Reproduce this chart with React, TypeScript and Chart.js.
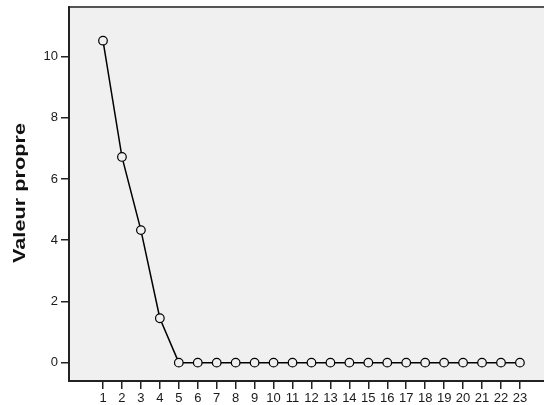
import React, { useEffect, useRef } from "react";
import { Chart, registerables } from "chart.js";

Chart.register(...registerables);

const components: number[] = [1, 2, 3, 4, 5, 6, 7, 8, 9, 10, 11, 12, 13, 14, 15, 16, 17, 18, 19, 20, 21, 22, 23];
const eigenvalues: number[] = [10.52, 6.72, 4.33, 1.45, 0, 0, 0, 0, 0, 0, 0, 0, 0, 0, 0, 0, 0, 0, 0, 0, 0, 0, 0];
const yTicks: number[] = [0, 2, 4, 6, 8, 10];
const yTitle = "Valeur propre";

const FONT = "'Liberation Sans', Arial, sans-serif";

export default function App() {
  const ref = useRef<HTMLCanvasElement | null>(null);

  useEffect(() => {
    const canvas = ref.current;
    if (!canvas) return;

    const framePlugin = {
      id: "frame",
      beforeDraw(chart: any) {
        const { ctx, chartArea } = chart;
        ctx.save();
        ctx.fillStyle = "#ffffff";
        ctx.fillRect(0, 0, chart.width, chart.height);
        ctx.fillStyle = "#f0f0f0";
        ctx.fillRect(chartArea.left, chartArea.top, chartArea.right - chartArea.left, chartArea.bottom - chartArea.top);
        ctx.restore();
      },
      afterDraw(chart: any) {
        const { ctx, chartArea } = chart;
        ctx.save();
        ctx.lineWidth = 2;
        ctx.strokeStyle = "#555555";
        ctx.beginPath();
        ctx.moveTo(chartArea.left, chartArea.top);
        ctx.lineTo(chartArea.right, chartArea.top);
        ctx.stroke();
        ctx.strokeStyle = "#222222";
        ctx.beginPath();
        ctx.moveTo(chartArea.left, chartArea.top - 1);
        ctx.lineTo(chartArea.left, chartArea.bottom);
        ctx.lineTo(chartArea.right, chartArea.bottom);
        ctx.stroke();

        // y-axis title
        ctx.font = `bold 17px ${FONT}`;
        const w = ctx.measureText(yTitle).width;
        const target = 140;
        const cy = (chartArea.top + chartArea.bottom) / 2 - 1;
        ctx.translate(20, cy);
        ctx.rotate(-Math.PI / 2);
        ctx.scale(target / w, 1);
        ctx.fillStyle = "#111111";
        ctx.textAlign = "center";
        ctx.textBaseline = "middle";
        ctx.fillText(yTitle, 0, 0);
        ctx.restore();
      },
    };

    const chart = new Chart(canvas, {
      type: "line",
      data: {
        datasets: [
          {
            data: components.map((c, i) => ({ x: c, y: eigenvalues[i] })),
            borderColor: "#000000",
            borderWidth: 1.5,
            pointRadius: 4.3,
            pointBorderWidth: 1.2,
            pointBorderColor: "#000000",
            pointBackgroundColor: "#f0f0f0",
            tension: 0,
            fill: false,
          },
        ],
      },
      options: {
        responsive: false,
        animation: false,
        devicePixelRatio: 1,
        layout: { autoPadding: false, padding: { top: 7, right: 0, left: 0, bottom: 0 } },
        plugins: {
          legend: { display: false },
          tooltip: { enabled: false },
          title: { display: false },
        },
        scales: {
          x: {
            type: "linear",
            min: -0.794,
            max: 24.27,
            afterBuildTicks: (scale: any) => {
              scale.ticks = components.map((v) => ({ value: v }));
            },
            afterFit: (scale: any) => {
              scale.height = 24;
              scale.paddingLeft = 0;
              scale.paddingRight = 0;
            },
            grid: {
              display: true,
              drawOnChartArea: false,
              drawTicks: true,
              tickLength: 8,
              color: "#222222",
              lineWidth: 1.5,
            },
            border: { display: false },
            ticks: {
              autoSkip: false,
              maxRotation: 0,
              minRotation: 0,
              padding: 2,
              color: "#1a1a1a",
              font: { family: FONT, size: 13 },
              callback: (v: any) => String(v),
            },
          },
          y: {
            type: "linear",
            min: -0.6,
            max: 11.62,
            afterBuildTicks: (scale: any) => {
              scale.ticks = yTicks.map((v) => ({ value: v }));
            },
            afterFit: (scale: any) => {
              scale.width = 69;
              scale.paddingTop = 0;
              scale.paddingBottom = 0;
            },
            grid: {
              display: true,
              drawOnChartArea: false,
              drawTicks: true,
              tickLength: 8,
              color: "#222222",
              lineWidth: 1.5,
            },
            border: { display: false },
            ticks: {
              padding: 3,
              color: "#1a1a1a",
              font: { family: FONT, size: 13 },
              callback: (v: any) => String(v),
            },
          },
        },
      },
      plugins: [framePlugin],
    } as any);

    return () => chart.destroy();
  }, []);

  return (
    <div style={{ position: "fixed", left: 0, top: 0, width: 544, height: 405 }}>
      <canvas ref={ref} width={544} height={405} style={{ display: "block", width: 544, height: 405 }} />
    </div>
  );
}
